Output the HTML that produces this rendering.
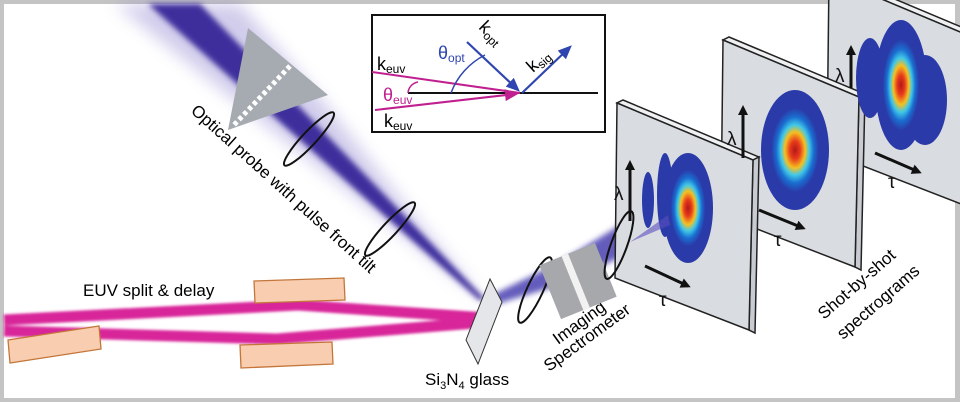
<!DOCTYPE html>
<html><head><meta charset="utf-8"><style>
html,body{margin:0;padding:0;background:#fff}
svg{display:block}
text{font-family:"Liberation Sans",sans-serif}
</style></head><body>
<svg width="960" height="402" viewBox="0 0 960 402" xmlns="http://www.w3.org/2000/svg">
<defs>
<filter id="b3" x="-50%" y="-50%" width="200%" height="200%"><feGaussianBlur stdDeviation="3"/></filter>
<filter id="b8" x="-50%" y="-50%" width="200%" height="200%"><feGaussianBlur stdDeviation="8"/></filter>
<filter id="b2" x="-50%" y="-50%" width="200%" height="200%"><feGaussianBlur stdDeviation="1.4"/></filter>
<radialGradient id="hm">
<stop offset="0" stop-color="#b01818"/><stop offset="0.15" stop-color="#e83a1c"/>
<stop offset="0.3" stop-color="#f5c020"/><stop offset="0.42" stop-color="#40c8e8"/>
<stop offset="0.55" stop-color="#1a6ed0"/><stop offset="0.7" stop-color="#2a3aa8"/>
<stop offset="1" stop-color="#2a3aa8"/></radialGradient>
<marker id="ah" markerWidth="10" markerHeight="10" refX="7" refY="5" orient="auto" markerUnits="userSpaceOnUse"><path d="M0,0 L10,5 L0,10z" fill="#111"/></marker>
<marker id="ahb" markerWidth="14" markerHeight="12" refX="10" refY="6" orient="auto" markerUnits="userSpaceOnUse"><path d="M0,0 L14,6 L0,12z" fill="#2f45b0"/></marker>
<marker id="ahm" markerWidth="14" markerHeight="12" refX="10" refY="6" orient="auto" markerUnits="userSpaceOnUse"><path d="M0,0 L14,6 L0,12z" fill="#c0208f"/></marker>
<g id="scr">
<polygon points="0,0 136,57 142,54 6,-3" fill="#eef0f2" stroke="#222" stroke-width="1.5"/>
<polygon points="136,57 142,54 138,230 132,227" fill="#c8ccd2" stroke="#222" stroke-width="1.5"/>
<polygon points="0,0 136,57 132,227 -2,175" fill="#d9dce1" stroke="#222" stroke-width="1.5"/>
</g>
</defs>
<rect x="0" y="0" width="960" height="402" fill="#c4c4c4"/>
<rect x="4" y="4" width="951" height="394" fill="#fff"/>

<!-- probe beam -->
<polygon points="115,4 240,4 330,110 425,230 484,300" fill="#7a70c8" opacity="0.35" filter="url(#b8)"/>
<polygon points="148,4 200,4 486,300 479,300" fill="#3c2f9c" filter="url(#b3)"/>
<!-- prism -->
<polygon points="248,28 328,95 228,130" fill="#a6abb2"/>
<line x1="290" y1="66" x2="233" y2="126" stroke="#fff" stroke-width="5" stroke-dasharray="4,3"/>
<!-- lenses on probe -->
<ellipse cx="309" cy="139" rx="36" ry="7" transform="rotate(-47 309 139)" fill="none" stroke="#111" stroke-width="2"/>
<ellipse cx="390" cy="229" rx="36" ry="7" transform="rotate(-47 390 229)" fill="none" stroke="#111" stroke-width="2"/>
<text x="0" y="0" font-size="17" transform="translate(190,112) rotate(42)">Optical probe with pulse front tilt</text>

<!-- EUV beams -->
<g filter="url(#b2)" fill="none" stroke="#d8289a" stroke-width="11" stroke-linejoin="round">
<polyline points="4,320 298,305 487,318"/>
<polyline points="4,331 277,339 487,322"/>
</g>
<!-- mirrors -->
<g fill="#f8cdb0" stroke="#c4763a" stroke-width="1.3">
<polygon points="254,281 344,278 345,300 255,303"/>
<polygon points="240,345 332,342 333,364 241,368"/>
<polygon points="8,340 99,326 101,349 10,363"/>
</g>
<text x="83" y="296" font-size="17">EUV split &amp; delay</text>

<!-- output beam -->
<polygon points="486,298 490,306 560,285 625,255 668,212 655,200 620,225 560,262" fill="#4a3fb0" opacity="0.85" filter="url(#b3)"/>
<!-- glass -->
<polygon points="490,279 502,302 478,364 466,340" fill="#e4e6ea" stroke="#333" stroke-width="1"/>
<text x="425" y="385" font-size="17">Si<tspan font-size="11" dy="4">3</tspan><tspan dy="-4">N</tspan><tspan font-size="11" dy="4">4</tspan><tspan dy="-4"> glass</tspan></text>

<!-- spectrometer -->
<ellipse cx="535" cy="290" rx="36" ry="8" transform="rotate(-65 535 290)" fill="none" stroke="#111" stroke-width="2"/>
<g transform="rotate(-22 578 281)">
<rect x="548" y="252" width="60" height="58" fill="#a6a8ac"/>
<rect x="572" y="252" width="7" height="58" fill="#f2f2f2"/>
</g>

<!-- screens -->
<use href="#scr" x="829" y="-23"/>
<use href="#scr" x="723" y="40"/>
<use href="#scr" x="617" y="103"/>

<!-- heatmaps screen3 -->
<ellipse cx="870" cy="78" rx="14" ry="40" fill="#2a3aa8"/>
<ellipse cx="925" cy="100" rx="22" ry="45" fill="#2a3aa8"/>
<ellipse cx="901" cy="85" rx="26" ry="65" fill="url(#hm)"/>
<!-- screen2 -->
<ellipse cx="795" cy="150" rx="34" ry="60" fill="url(#hm)"/>
<!-- screen1 -->
<ellipse cx="648" cy="200" rx="6" ry="28" fill="#2a3aa8"/>
<ellipse cx="665" cy="195" rx="8" ry="42" fill="#2a3aa8"/>
<ellipse cx="688" cy="208" rx="25" ry="55" fill="url(#hm)"/>
<polygon points="630,242 668,215 670,225" fill="#5a4fc0" opacity="0.6"/>
<ellipse cx="619" cy="245" rx="36" ry="8" transform="rotate(-70 619 245)" fill="none" stroke="#111" stroke-width="2"/>

<!-- axes -->
<g stroke="#111" stroke-width="3" marker-end="url(#ah)">
<line x1="630" y1="221" x2="630" y2="163"/>
<line x1="645" y1="266" x2="688" y2="286"/>
<line x1="743" y1="158" x2="743" y2="108"/>
<line x1="759" y1="210" x2="803" y2="228"/>
<line x1="851" y1="88" x2="851" y2="48"/>
<line x1="875" y1="153" x2="919" y2="172"/>
</g>
<g font-size="19" fill="#111">
<text x="614" y="200">λ</text>
<text x="727" y="145">λ</text>
<text x="835" y="82">λ</text>
<text x="659" y="306">τ</text>
<text x="774" y="246">τ</text>
<text x="888" y="188">τ</text>
</g>

<text x="0" y="0" font-size="17" transform="translate(558,345) rotate(-36)">Imaging</text>
<text x="0" y="0" font-size="17" transform="translate(549,372) rotate(-36)">Spectrometer</text>
<text x="0" y="0" font-size="17" transform="translate(824,320) rotate(-41)">Shot-by-shot</text>
<text x="0" y="0" font-size="17" transform="translate(843,340) rotate(-41)">spectrograms</text>

<!-- inset -->
<rect x="372" y="15" width="233" height="117" fill="#fff" stroke="#111" stroke-width="2"/>
<line x1="408" y1="93" x2="598" y2="93" stroke="#111" stroke-width="2"/>
<line x1="372" y1="72" x2="520" y2="93" stroke="#c0208f" stroke-width="2"/>
<line x1="375" y1="110" x2="515" y2="94" stroke="#c0208f" stroke-width="2" marker-end="url(#ahm)"/>
<path d="M408,93 A12,12 0 0 1 418,82" fill="none" stroke="#c0208f" stroke-width="1.5"/>
<path d="M451,93 A70,70 0 0 1 485,55" fill="none" stroke="#2f45b0" stroke-width="1.5"/>
<line x1="467" y1="42" x2="517" y2="89" stroke="#2f45b0" stroke-width="2.2" marker-end="url(#ahb)"/>
<line x1="522" y1="93" x2="569" y2="48" stroke="#2f45b0" stroke-width="2.2" marker-end="url(#ahb)"/>
<text x="377" y="70" font-size="18">k<tspan font-size="12" dy="3">euv</tspan></text>
<text x="383" y="101" font-size="18" fill="#c0208f">θ<tspan font-size="12" dy="3">euv</tspan></text>
<text x="384" y="127" font-size="18">k<tspan font-size="12" dy="3">euv</tspan></text>
<text x="438" y="59" font-size="18" fill="#2f45b0">θ<tspan font-size="12" dy="3">opt</tspan></text>
<text x="0" y="0" font-size="18" transform="translate(478,28) rotate(45)">k<tspan font-size="12" dy="3">opt</tspan></text>
<text x="0" y="0" font-size="18" transform="translate(533,73) rotate(-42)">k<tspan font-size="12" dy="3">sig</tspan></text>
</svg>
</body></html>
